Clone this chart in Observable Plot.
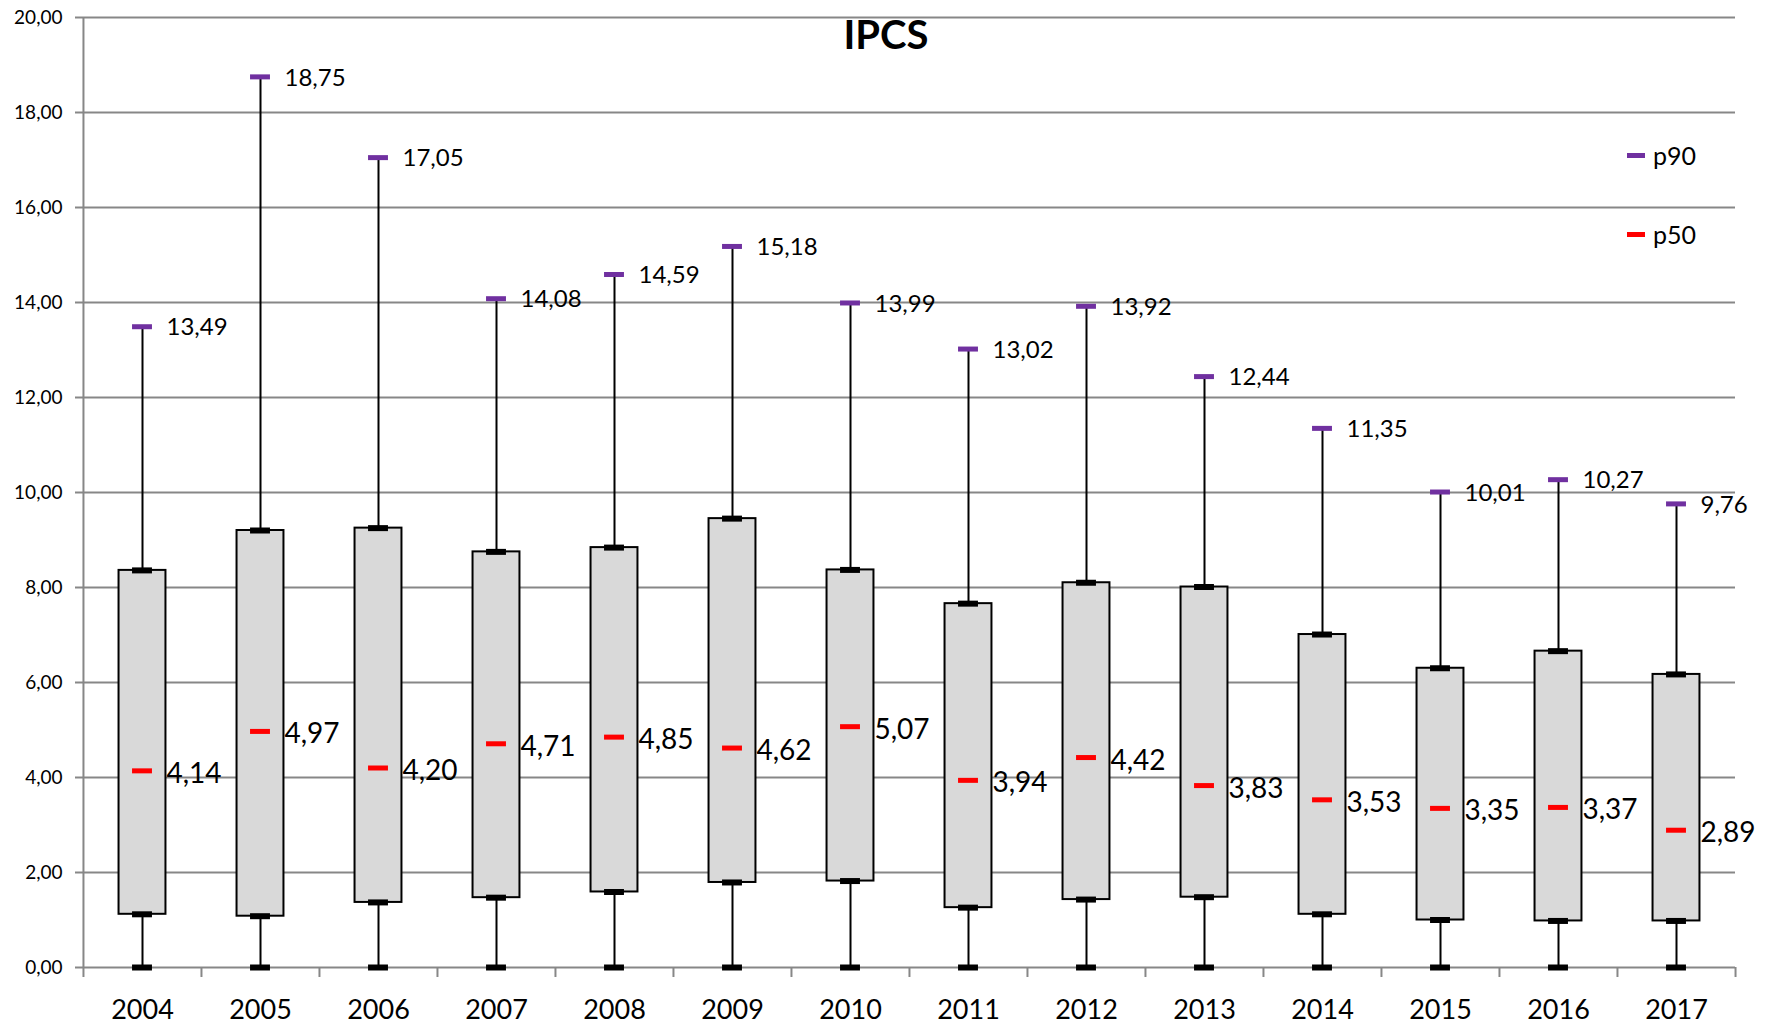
<!DOCTYPE html>
<html>
<head>
<meta charset="utf-8">
<script src="https://cdn.jsdelivr.net/npm/d3@7"></script>
<script src="https://cdn.jsdelivr.net/npm/@observablehq/plot@0.6"></script>
<style>
  html, body { margin: 0; padding: 0; background: #fff; }
  #wrap { position: relative; width: 1771px; height: 1024px; font-family: Lato, "Open Sans", sans-serif; }
  #title { position: absolute; left: 886px; top: 34px; transform: translate(-50%, -50%); font-weight: 700; font-size: 40px; color: #000; white-space: nowrap; }
  .leg { position: absolute; left: 1627px; font-size: 25px; color: #000; display: flex; align-items: center; transform: translateY(-50%); }
  .leg .sw { display: inline-block; width: 18px; height: 5px; margin-right: 8px; }
</style>
</head>
<body>
<div id="wrap">
  <div id="chart"></div>
  <div id="title">IPCS</div>
  <div class="leg" style="top:155px"><span class="sw" style="background:#7030a0"></span>p90</div>
  <div class="leg" style="top:234px"><span class="sw" style="background:#ff0000"></span>p50</div>
</div>
<script>
const years = ["2004","2005","2006","2007","2008","2009","2010","2011","2012","2013","2014","2015","2016","2017"];
const p90 = [13.49, 18.75, 17.05, 14.08, 14.59, 15.18, 13.99, 13.02, 13.92, 12.44, 11.35, 10.01, 10.27, 9.76];
const p50 = [4.14, 4.97, 4.20, 4.71, 4.85, 4.62, 5.07, 3.94, 4.42, 3.83, 3.53, 3.35, 3.37, 2.89];
const q3  = [8.36, 9.20, 9.25, 8.75, 8.84, 9.45, 8.37, 7.66, 8.10, 8.01, 7.01, 6.30, 6.66, 6.17];
const q1  = [1.12, 1.08, 1.37, 1.47, 1.59, 1.79, 1.82, 1.26, 1.43, 1.48, 1.12, 1.00, 0.98, 0.98];
const pmin = [0, 0, 0, 0, 0, 0, 0, 0, 0, 0, 0, 0, 0, 0];
const yTicks = [0, 2, 4, 6, 8, 10, 12, 14, 16, 18, 20];

const data = years.map((year, i) => ({year, min: pmin[i], q1: q1[i], p50: p50[i], q3: q3[i], p90: p90[i]}));

const W = 1771, H = 1024, ML = 82, MR = 36, MT = 17, MB = 57;
const bw = (W - ML - MR) / years.length;
const boxInset = (bw - 47) / 2;
const capInset = (bw - 20) / 2;
const fmt = d => d.toFixed(2).replace(".", ",");
const grid = "#878787";

const chart = Plot.plot({
  width: W, height: H,
  marginLeft: ML, marginRight: MR, marginTop: MT, marginBottom: MB,
  style: {fontFamily: "Lato, 'Open Sans', sans-serif", color: "#000", background: "#fff"},
  x: {type: "band", domain: years, padding: 0},
  y: {domain: [0, 20]},
  marks: [
    Plot.gridY(yTicks, {stroke: grid, strokeOpacity: 1, strokeWidth: 2}),
    Plot.ruleX(years, {x: d => d, y1: -0.21, y2: 0, dx: -bw / 2, stroke: grid, strokeWidth: 2}),
    Plot.ruleX([years[years.length - 1]], {x: d => d, y1: -0.21, y2: 0, dx: bw / 2, stroke: grid, strokeWidth: 2}),
    Plot.ruleX([years[0]], {x: d => d, y1: 0, y2: 20, dx: -bw / 2, stroke: grid, strokeWidth: 2}),
    Plot.axisY(yTicks, {tickSize: 7, tickPadding: 13, stroke: grid, strokeWidth: 2, fill: "#000", fontSize: 19, tickFormat: fmt, label: null}),
    Plot.axisX({tickSize: 0, tickPadding: 32, fontSize: 27, fill: "#000", tickFormat: d => d, label: null}),
    Plot.ruleX(data, {x: "year", y1: "min", y2: "p90", stroke: "#000", strokeWidth: 2}),
    Plot.barY(data, {x: "year", y1: "q1", y2: "q3", fill: "#d9d9d9", stroke: "#000", strokeWidth: 2, insetLeft: boxInset, insetRight: boxInset}),
    Plot.tickY(data, {x: "year", y: "min", stroke: "#000", strokeWidth: 6, insetLeft: capInset, insetRight: capInset}),
    Plot.tickY(data, {x: "year", y: "q1", stroke: "#000", strokeWidth: 6, insetLeft: capInset, insetRight: capInset}),
    Plot.tickY(data, {x: "year", y: "q3", stroke: "#000", strokeWidth: 6, insetLeft: capInset, insetRight: capInset}),
    Plot.tickY(data, {x: "year", y: "p90", stroke: "#7030a0", strokeWidth: 5, insetLeft: capInset, insetRight: capInset}),
    Plot.tickY(data, {x: "year", y: "p50", stroke: "#ff0000", strokeWidth: 5, insetLeft: capInset, insetRight: capInset}),
    Plot.text(data, {x: "year", y: "p90", text: d => fmt(d.p90), textAnchor: "start", dx: 24, dy: 1, fontSize: 24, fill: "#000"}),
    Plot.text(data, {x: "year", y: "p50", text: d => fmt(d.p50), textAnchor: "start", dx: 24, dy: 3, fontSize: 28, fill: "#000"})
  ]
});
document.getElementById("chart").appendChild(chart);
</script>
</body>
</html>
